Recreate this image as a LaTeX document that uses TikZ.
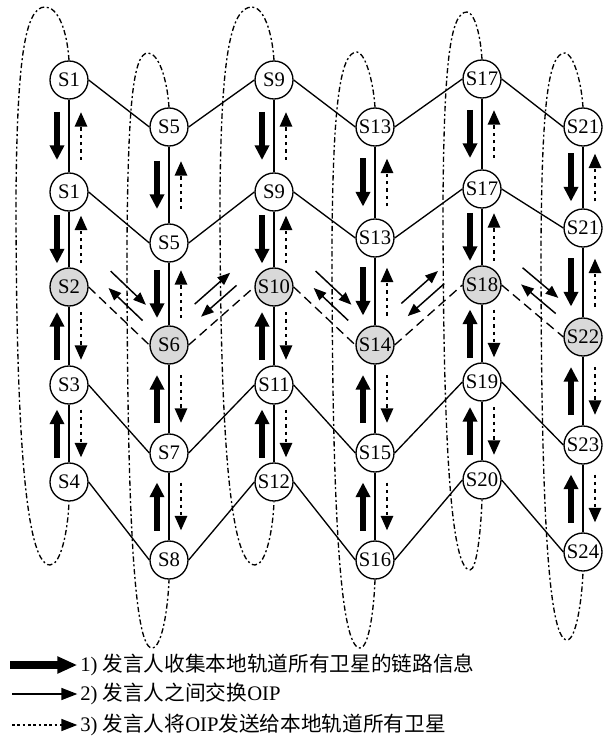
\documentclass[tikz,border=0pt]{standalone}
\usepackage{fontspec}
\setmainfont{Liberation Serif}
\newfontfamily\cjk{Noto Sans CJK SC}
\usetikzlibrary{arrows.meta,calc}
\tikzset{
  sat/.style={circle, draw, line width=1pt, fill=white, minimum size=28.5pt, inner sep=0pt, font=\fontsize{15.5}{15.5}\selectfont},
  spkr/.style={sat, fill=black!15},
  link/.style={line width=1pt},
  spklink/.style={line width=1pt, dash pattern=on 7pt off 4pt},
  orbit/.style={line width=1pt, dash pattern=on 4pt off 2pt on 1.5pt off 2pt},
  collect/.style={line width=4.8pt, -{Triangle[length=11pt,width=10.5pt]}},
  notify/.style={line width=2.2pt, dash pattern=on 2.5pt off 3pt, -{Triangle[length=11pt,width=9pt]}},
  xch/.style={line width=1.1pt, -{Triangle[length=9.5pt,width=7.5pt]}},
  legcollect/.style={line width=6pt, -{Triangle[length=15pt,width=12pt]}},
  legxch/.style={line width=1.2pt, -{Triangle[length=12pt,width=9pt]}},
  legnotify/.style={line width=1.2pt, dash pattern=on 2pt off 2pt, -{Triangle[length=12pt,width=9pt]}},
  legtext/.style={anchor=west, inner sep=0pt, font=\fontsize{15.5}{15.5}\selectfont},
}
\newcommand\vpairarrows[2]{%
  \coordinate (vm) at ($(#1)!0.5!(#2)$);
  \draw[collect] ($(vm)!18pt!(#1)+(-12,0)$) -- ($(vm)!18pt!(#2)+(-12,0)$);
  \draw[notify] ($(vm)!18pt!(#2)+(12,0)$) -- ($(vm)!18pt!(#1)+(12,0)$);
}
\newcommand\spkdown[2]{%
  \draw[spklink] (#1.east) -- (#2.west);
  \draw[xch] ($(#1.east)!0.06!(#2.west)!20pt!90:(#2.west)$) -- ($(#1.east)!0.64!(#2.west)!20pt!90:(#2.west)$);
  \draw[xch] ($(#1.east)!0.74!(#2.west)!9.75pt!90:(#2.west)$) -- ($(#1.east)!0.18!(#2.west)!9.75pt!90:(#2.west)$);
}
\newcommand\spkup[2]{%
  \draw[spklink] (#1.east) -- (#2.west);
  \draw[xch] ($(#1.east)!0.36!(#2.west)!20pt!90:(#2.west)$) -- ($(#1.east)!0.90!(#2.west)!20pt!90:(#2.west)$);
  \draw[xch] ($(#1.east)!0.86!(#2.west)!9.75pt!90:(#2.west)$) -- ($(#1.east)!0.32!(#2.west)!9.75pt!90:(#2.west)$);
}
\begin{document}
\begin{tikzpicture}[x=0.75pt,y=-0.75pt]
\useasboundingbox (0,0) rectangle (609,741);
% column 1
\node[sat] (S1a) at (69,80) {S1};
\node[sat] (S1b) at (69,192) {S1};
\node[spkr] (S2) at (69,287) {S2};
\node[sat] (S3) at (69,385) {S3};
\node[sat] (S4) at (69,482) {S4};
% column 2
\node[sat] (S5a) at (169,127) {S5};
\node[sat] (S5b) at (169,243) {S5};
\node[spkr] (S6) at (169,345) {S6};
\node[sat] (S7) at (169,453) {S7};
\node[sat] (S8) at (169,560) {S8};
% column 3
\node[sat] (S9a) at (274,80) {S9};
\node[sat] (S9b) at (274,192) {S9};
\node[spkr] (S10) at (274,287) {S10};
\node[sat] (S11) at (274,385) {S11};
\node[sat] (S12) at (274,482) {S12};
% column 4
\node[sat] (S13a) at (375,127) {S13};
\node[sat] (S13b) at (375,238) {S13};
\node[spkr] (S14) at (375,345) {S14};
\node[sat] (S15) at (375,453) {S15};
\node[sat] (S16) at (375,560) {S16};
% column 5
\node[sat] (S17a) at (482,79) {S17};
\node[sat] (S17b) at (482,189) {S17};
\node[spkr] (S18) at (482,285) {S18};
\node[sat] (S19) at (482,382) {S19};
\node[sat] (S20) at (482,480) {S20};
% column 6
\node[sat] (S21a) at (583,127) {S21};
\node[sat] (S21b) at (583,228) {S21};
\node[spkr] (S22) at (583,337) {S22};
\node[sat] (S23) at (583,445) {S23};
\node[sat] (S24) at (583,552) {S24};

% orbit loops
\draw[orbit] (S1a.north) .. controls (67,30) and (58,7) .. (45,7) .. controls (25,7) and (17,60) .. (16,197) .. controls (16,402) and (23,565) .. (50,565) .. controls (61,565) and (68,530) .. (S4.south);
\draw[orbit] (S5a.north) .. controls (167,77) and (158,53) .. (148,53) .. controls (133,53) and (128,106) .. (127,243) .. controls (127,480) and (132,648) .. (152,648) .. controls (162,648) and (168,608) .. (S8.south);
\draw[orbit] (S9a.north) .. controls (272,30) and (263,7) .. (252,7) .. controls (230,7) and (221,60) .. (220,197) .. controls (220,402) and (227,565) .. (255,565) .. controls (266,565) and (273,530) .. (S12.south);
\draw[orbit] (S13a.north) .. controls (373,77) and (364,52) .. (357,52) .. controls (340,52) and (333,105) .. (332,242) .. controls (332,480) and (338,648) .. (360,648) .. controls (369,648) and (374,608) .. (S16.south);
\draw[orbit] (S17a.north) .. controls (480,29) and (473,12) .. (467,12) .. controls (450,12) and (444,65) .. (443,202) .. controls (443,400) and (448,570) .. (470,570) .. controls (477,570) and (481,528) .. (S20.south);
\draw[orbit] (S21a.north) .. controls (581,77) and (572,53) .. (565,53) .. controls (548,53) and (542,106) .. (541,243) .. controls (541,472) and (546,640) .. (567,640) .. controls (576,640) and (582,600) .. (S24.south);

% column links
\foreach \a/\b in {S1a/S1b,S1b/S2,S2/S3,S3/S4,
                   S5a/S5b,S5b/S6,S6/S7,S7/S8,
                   S9a/S9b,S9b/S10,S10/S11,S11/S12,
                   S13a/S13b,S13b/S14,S14/S15,S15/S16,
                   S17a/S17b,S17b/S18,S18/S19,S19/S20,
                   S21a/S21b,S21b/S22,S22/S23,S23/S24}
  \draw[link] (\a) -- (\b);

% inter-orbit links
\foreach \a/\b in {S1a/S5a,S5a/S9a,S9a/S13a,S13a/S17a,S17a/S21a,
                   S1b/S5b,S5b/S9b,S9b/S13b,S13b/S17b,S17b/S21b,
                   S3/S7,S7/S11,S11/S15,S15/S19,S19/S23,
                   S4/S8,S8/S12,S12/S16,S16/S20,S20/S24}
  \draw[link] (\a.east) -- (\b.west);

% speaker links with OIP exchange
\spkdown{S2}{S6}
\spkup{S6}{S10}
\spkdown{S10}{S14}
\spkup{S14}{S18}
\spkdown{S18}{S22}

% collection / notification arrows
\vpairarrows{S1a}{S1b}\vpairarrows{S1b}{S2}\vpairarrows{S4}{S3}\vpairarrows{S3}{S2}
\vpairarrows{S5a}{S5b}\vpairarrows{S5b}{S6}\vpairarrows{S8}{S7}\vpairarrows{S7}{S6}
\vpairarrows{S9a}{S9b}\vpairarrows{S9b}{S10}\vpairarrows{S12}{S11}\vpairarrows{S11}{S10}
\vpairarrows{S13a}{S13b}\vpairarrows{S13b}{S14}\vpairarrows{S16}{S15}\vpairarrows{S15}{S14}
\vpairarrows{S17a}{S17b}\vpairarrows{S17b}{S18}\vpairarrows{S20}{S19}\vpairarrows{S19}{S18}
\vpairarrows{S21a}{S21b}\vpairarrows{S21b}{S22}\vpairarrows{S24}{S23}\vpairarrows{S23}{S22}

% legend
\node[legtext] (L1) at (80,665) {1) {\cjk 发言人收集本地轨道所有卫星的链路信息}};
\node[legtext] (L2) at (80,694) {2) {\cjk 发言人之间交换}OIP};
\node[legtext] (L3) at (80,725) {3) {\cjk 发言人将}OIP{\cjk 发送给本地轨道所有卫星}};
\coordinate (L1s) at (10,665);
\coordinate (L2s) at (12,694);
\coordinate (L3s) at (12,725);
\draw[legcollect, shorten >=2pt] (L1s) -- (L1.west);
\draw[legxch, shorten >=2pt] (L2s) -- (L2.west);
\draw[legnotify, shorten >=2pt] (L3s) -- (L3.west);
\end{tikzpicture}
\end{document}
